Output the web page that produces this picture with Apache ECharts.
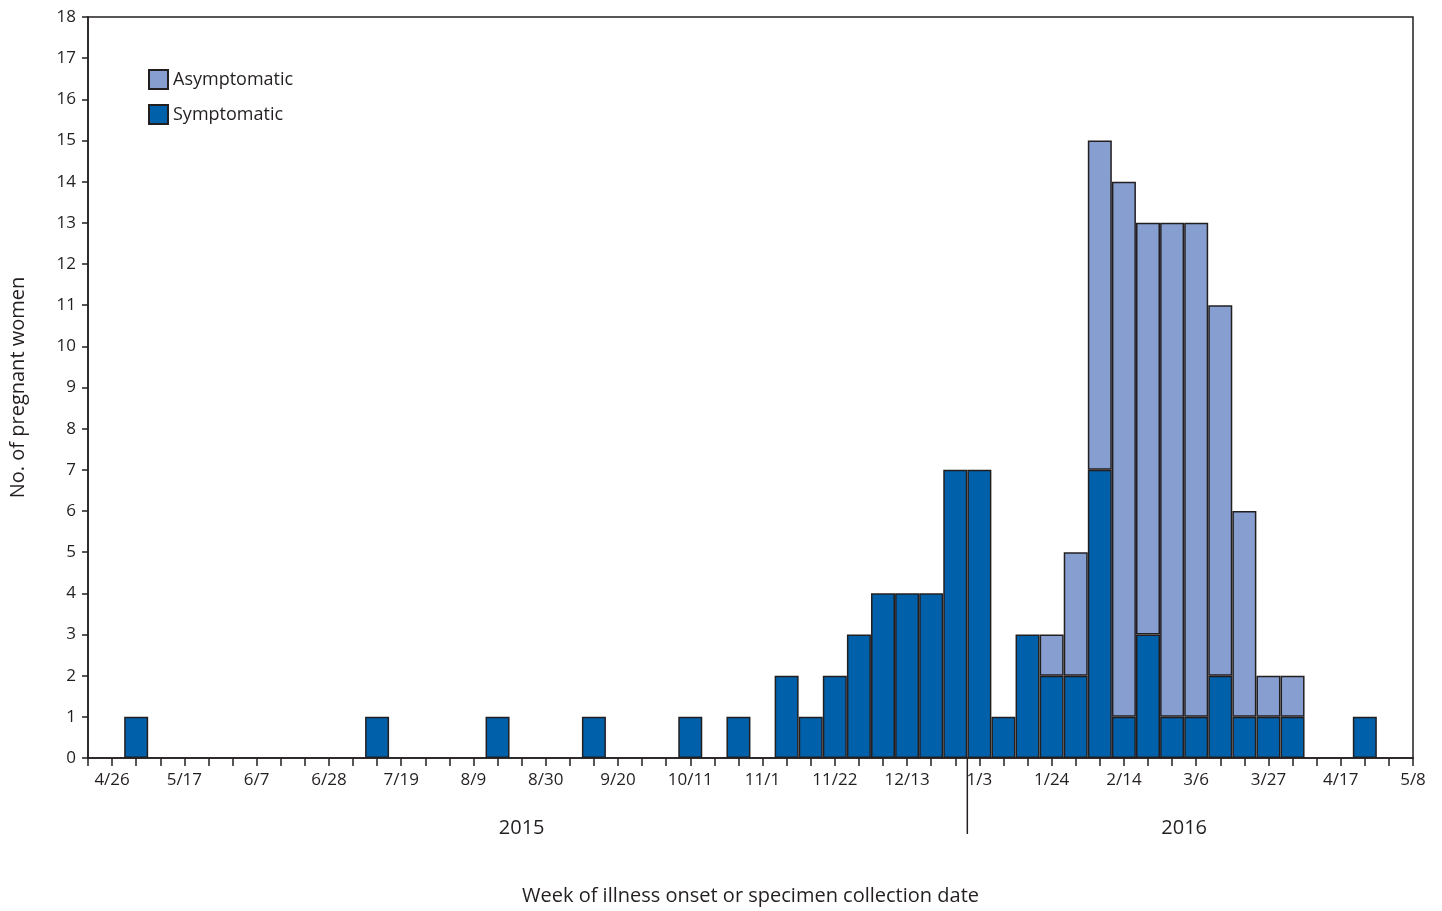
<!DOCTYPE html>
<html><head><meta charset="utf-8">
<script src="https://cdn.jsdelivr.net/npm/echarts@6/dist/echarts.min.js"></script>
<style>html,body{margin:0;padding:0;background:#fff}#c{width:1442px;height:911px}</style>
</head><body><div id="c"></div>
<script>
// weeks from 4/19/2015 to 5/8/2016 (56 weekly categories)
const startDate = new Date(2015, 3, 19);
const categories = [];
for (let i = 0; i < 56; i++) { const d = new Date(startDate.getTime() + i * 7 * 86400000); categories.push((d.getMonth()+1) + '/' + d.getDate()); }
categories[55] = '5/8';
const symptomaticByWeek = {2:1,12:1,17:1,21:1,25:1,27:1,29:2,30:1,31:2,32:3,33:4,34:4,35:4,36:7,37:7,38:1,39:3,40:2,41:2,42:7,43:1,44:3,45:1,46:1,47:2,48:1,49:1,50:1,53:1};
const asymptomaticByWeek = {40:1,41:3,42:8,43:13,44:10,45:12,46:12,47:9,48:5,49:1,50:1};
const symptomatic = categories.map((c,i)=> symptomaticByWeek[i] || null);
const asymptomatic = categories.map((c,i)=> asymptomaticByWeek[i] || null);
const yearLabels = [['2015', 18], ['2016', 45.5]];
const yearDividerAt = 36.5;

const chart = echarts.init(document.getElementById('c'));
const F = 'Open Sans, sans-serif';
chart.setOption({
  animation:false,
  textStyle:{fontFamily:F},
  grid:{left:84,right:29,top:17,bottom:151,show:true,borderColor:'#231f20',borderWidth:1.5},
  legend:{left:143,top:64,orient:'vertical',itemGap:14,itemWidth:19,itemHeight:19,icon:'rect',
    textStyle:{fontSize:18,color:'#231f20',fontFamily:F},
    data:['Asymptomatic','Symptomatic']},
  xAxis:{type:'category',data:categories,boundaryGap:false,
    name:'Week of illness onset or specimen collection date',nameLocation:'middle',nameGap:128,
    nameTextStyle:{fontSize:20,color:'#231f20'},
    axisLine:{lineStyle:{color:'#231f20',width:1.5}},
    axisTick:{interval:0,length:8,lineStyle:{color:'#231f20',width:1.5}},
    axisLabel:{interval:(i)=> i%3===1, fontSize:17,color:'#231f20',margin:14,showMaxLabel:true}},
  yAxis:{type:'value',min:0,max:18,interval:1,
    name:'No. of pregnant women',nameLocation:'middle',nameGap:60,
    nameTextStyle:{fontSize:20,color:'#231f20'},
    axisLine:{show:true,lineStyle:{color:'#231f20',width:1.5}},
    axisTick:{show:true,length:6,lineStyle:{color:'#231f20',width:1.5}},
    splitLine:{show:false},
    axisLabel:{fontSize:17,color:'#231f20',margin:12}},
  series:[
    {name:'Symptomatic',type:'bar',stack:'a',data:symptomatic,barWidth:24,
      itemStyle:{color:'#0060a9',borderColor:'#231f20',borderWidth:1.5}},
    {name:'Asymptomatic',type:'bar',stack:'a',data:asymptomatic,barWidth:24,
      itemStyle:{color:'#869fd0',borderColor:'#231f20',borderWidth:1.5}}
  ]
});
function px(x,y){return chart.convertToPixel({gridIndex:0},[x,y]);}
const p0 = px(0,0), p1 = px(1,0);
const w = p1[0]-p0[0];
const divX = p0[0] + w*yearDividerAt;
const g = [{type:'line',shape:{x1:divX,y1:p0[1],x2:divX,y2:p0[1]+76},style:{stroke:'#231f20',lineWidth:1.5}}];
yearLabels.forEach(([t,i])=>{ g.push({type:'text',x:p0[0]+w*i,y:p0[1]+70,style:{text:t,fontSize:20,fontFamily:F,fill:'#231f20',align:'center',verticalAlign:'middle'}}); });
chart.setOption({graphic:g});
</script></body></html>
